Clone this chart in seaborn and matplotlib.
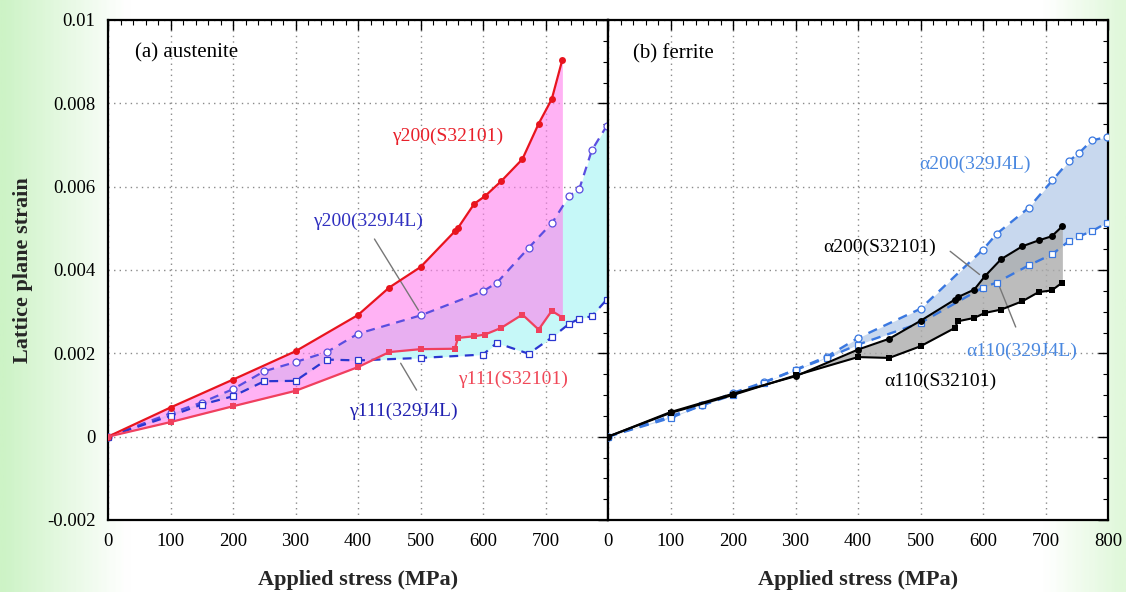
import numpy as np
import seaborn as sns
import matplotlib.pyplot as plt
from matplotlib.ticker import MultipleLocator, FixedLocator
from matplotlib.colors import LinearSegmentedColormap

# ---------------- data ----------------
# stress points (MPa)
stress_s321 = [0, 100, 200, 300, 400, 450, 500, 555, 560, 586, 603, 629, 663, 689, 710, 727]
stress_329 = [0, 100, 150, 200, 250, 300, 350, 400, 500, 600, 622, 673, 711, 738, 754, 774, 798]

# austenite
g200_s321 = [0, 0.00070, 0.00137, 0.00205, 0.00292, 0.00358, 0.00407, 0.00493, 0.00501,
             0.00559, 0.00577, 0.00613, 0.00666, 0.00751, 0.00810, 0.00905]
g111_s321 = [0, 0.00035, 0.00073, 0.00110, 0.00167, 0.00203, 0.00210, 0.00211, 0.00237,
             0.00241, 0.00245, 0.00261, 0.00293, 0.00257, 0.00302, 0.00286]
g200_329 = [0, 0.00056, 0.00082, 0.00114, 0.00157, 0.00179, 0.00203, 0.00247, 0.00291,
            0.00349, 0.00369, 0.00453, 0.00514, 0.00578, 0.00594, 0.00687, 0.00746]
g111_329 = [0, 0.00050, 0.00077, 0.00097, 0.00133, 0.00134, 0.00185, 0.00183, 0.00189,
            0.00197, 0.00225, 0.00199, 0.00239, 0.00271, 0.00283, 0.00289, 0.00329]

# ferrite
a200_s321 = [0, 0.00059, 0.00103, 0.00145, 0.00209, 0.00235, 0.00278, 0.00329, 0.00335,
             0.00353, 0.00385, 0.00426, 0.00457, 0.00471, 0.00481, 0.00505]
a110_s321 = [0, 0.00057, 0.00100, 0.00147, 0.00191, 0.00189, 0.00217, 0.00261, 0.00277,
             0.00285, 0.00297, 0.00305, 0.00325, 0.00347, 0.00351, 0.00370]
a200_329 = [0, 0.00049, 0.00075, 0.00105, 0.00131, 0.00161, 0.00192, 0.00237, 0.00307,
            0.00449, 0.00487, 0.00549, 0.00615, 0.00662, 0.00681, 0.00711, 0.00719]
a110_329 = [0, 0.00045, 0.00075, 0.00100, 0.00130, 0.00160, 0.00189, 0.00221, 0.00273,
            0.00358, 0.00370, 0.00411, 0.00438, 0.00470, 0.00481, 0.00493, 0.00513]

y_ticks = [-0.002, 0, 0.002, 0.004, 0.006, 0.008, 0.01]
y_labels = ['-0.002', '0', '0.002', '0.004', '0.006', '0.008', '0.01']
x_ticks = [0, 100, 200, 300, 400, 500, 600, 700, 800]
x_labels_a = ['0', '100', '200', '300', '400', '500', '600', '700', '']
x_labels_b = ['0', '100', '200', '300', '400', '500', '600', '700', '800']

# ---------------- style ----------------
sns.set_theme(style='white')
plt.rcParams['font.family'] = ['Liberation Serif', 'DejaVu Serif']

fig = plt.figure(figsize=(11.26, 5.92), dpi=100)

# light green side gradient behind everything
bg = fig.add_axes([0, 0, 1, 1], zorder=-10)
cmap = LinearSegmentedColormap.from_list(
    'side', [(0.0, '#cdf3c6'), (0.11, '#ffffff'), (0.93, '#ffffff'), (1.0, '#e0f8da')])
bg.imshow(np.linspace(0, 1, 400)[None, :], aspect='auto', cmap=cmap, extent=[0, 1, 0, 1])
bg.axis('off')

ax1 = fig.add_axes([108 / 1126, 72 / 592, 500 / 1126, 500 / 592])
ax2 = fig.add_axes([608 / 1126, 72 / 592, 500 / 1126, 500 / 592])

# ---------------- (a) austenite ----------------
ax1.fill_between(stress_329, g111_329, g200_329, color='#c6f8f8', lw=0, zorder=1)
ax1.fill_between(stress_s321, g111_s321, g200_s321, color='#ff7fed', alpha=0.6, lw=0, zorder=1.5)

sns.lineplot(x=stress_s321, y=g200_s321, ax=ax1, color='#e8141e', lw=1.6,
             marker='o', markersize=5, markeredgewidth=0, zorder=4)
sns.lineplot(x=stress_s321, y=g111_s321, ax=ax1, color='#f0405e', lw=1.6,
             marker='s', markersize=5, markeredgewidth=0, zorder=4)
sns.lineplot(x=stress_329, y=g200_329, ax=ax1, color='#5a4ee0', lw=1.6, dashes=(4, 3),
             marker='o', markersize=5, markerfacecolor='white', markeredgecolor='#5a4ee0',
             markeredgewidth=0.9, zorder=3)
sns.lineplot(x=stress_329, y=g111_329, ax=ax1, color='#2a36d0', lw=1.6, dashes=(4, 3),
             marker='s', markersize=5, markerfacecolor='white', markeredgecolor='#2a36d0',
             markeredgewidth=0.9, zorder=3)

ax1.text(43, 0.0092, '(a) austenite', fontsize=15, ha='left', va='center', color='black')
ax1.text(544, 0.0072, 'γ200(S32101)', fontsize=14, ha='center', va='center', color='#e8202a')
ax1.text(416, 0.00516, 'γ200(329J4L)', fontsize=14, ha='center', va='center', color='#3030c0')
ax1.text(648, 0.00137, 'γ111(S32101)', fontsize=14, ha='center', va='center', color='#f04858')
ax1.text(472, 0.0006, 'γ111(329J4L)', fontsize=14, ha='center', va='center', color='#2020b0')
ax1.annotate('', xy=(499, 0.00298), xytext=(424, 0.0048),
             arrowprops=dict(arrowstyle='-', color='#777777', lw=1))
ax1.annotate('', xy=(466, 0.00182), xytext=(496, 0.00106),
             arrowprops=dict(arrowstyle='-', color='#777777', lw=1))

# ---------------- (b) ferrite ----------------
ax2.fill_between(stress_329, a110_329, a200_329, color='#c8d8ee', lw=0, zorder=1)
ax2.fill_between(stress_s321, a110_s321, a200_s321, color='#ababab', alpha=0.8, lw=0, zorder=1.5)

sns.lineplot(x=stress_329, y=a200_329, ax=ax2, color='#3a78e0', lw=1.7, dashes=(4, 3),
             marker='o', markersize=5, markerfacecolor='white', markeredgecolor='#3a78e0',
             markeredgewidth=0.9, zorder=3)
sns.lineplot(x=stress_329, y=a110_329, ax=ax2, color='#3a78e0', lw=1.7, dashes=(4, 3),
             marker='s', markersize=5, markerfacecolor='white', markeredgecolor='#3a78e0',
             markeredgewidth=0.9, zorder=3)
sns.lineplot(x=stress_s321, y=a200_s321, ax=ax2, color='black', lw=1.5,
             marker='o', markersize=5, markeredgewidth=0, zorder=4)
sns.lineplot(x=stress_s321, y=a110_s321, ax=ax2, color='black', lw=1.5,
             marker='s', markersize=5, markeredgewidth=0, zorder=4)

ax2.text(40, 0.0092, '(b) ferrite', fontsize=15, ha='left', va='center', color='black')
ax2.text(587, 0.00653, 'α200(329J4L)', fontsize=14, ha='center', va='center', color='#4a88e0')
ax2.text(435, 0.00454, 'α200(S32101)', fontsize=14, ha='center', va='center', color='black')
ax2.text(662, 0.00204, 'α110(329J4L)', fontsize=14, ha='center', va='center', color='#4a88e0')
ax2.text(531, 0.00132, 'α110(S32101)', fontsize=14, ha='center', va='center', color='black')
ax2.annotate('', xy=(598, 0.00385), xytext=(544, 0.00449),
             arrowprops=dict(arrowstyle='-', color='#777777', lw=1))
ax2.annotate('', xy=(625, 0.00365), xytext=(654, 0.00257),
             arrowprops=dict(arrowstyle='-', color='#777777', lw=1))

# ---------------- axes ----------------
for ax, xl in [(ax1, x_labels_a), (ax2, x_labels_b)]:
    ax.set_xlim(0, 800)
    ax.set_ylim(-0.002, 0.01)
    ax.xaxis.set_major_locator(FixedLocator(x_ticks))
    ax.set_xticklabels(xl)
    ax.xaxis.set_minor_locator(MultipleLocator(20))
    ax.set_yticks(y_ticks)
    ax.yaxis.set_minor_locator(MultipleLocator(0.0005))
    ax.tick_params(which='both', direction='in', top=True, right=True, colors='black',
                   labelsize=13.5, pad=9)
    ax.tick_params(which='major', length=7, width=1)
    ax.tick_params(which='minor', length=3.5, width=0.8)
    ax.grid(which='major', linestyle=(0, (1, 3)), color='#8a8a8a', lw=1)
    ax.set_axisbelow(True)
    for sp in ax.spines.values():
        sp.set_color('black')
        sp.set_linewidth(1.6)
    ax.set_facecolor('white')
    ax.set_xlabel('Applied stress (MPa)', fontsize=16, fontweight='bold', labelpad=15)

ax1.set_yticklabels(y_labels)
ax1.set_ylabel('Lattice plane strain', fontsize=16, fontweight='bold', labelpad=10)
ax2.set_yticklabels([])
ax2.set_ylabel('')

fig.savefig('out.png', dpi=100)
